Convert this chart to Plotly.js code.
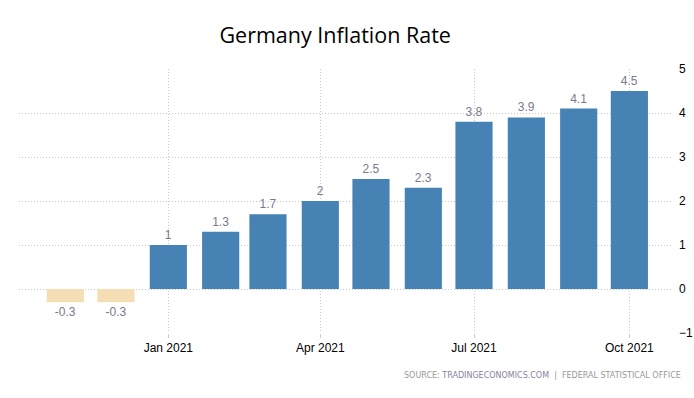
<!DOCTYPE html>
<html>
<head>
<meta charset="utf-8">
<script src="https://cdn.plot.ly/plotly-3.0.1.min.js"></script>
<style>html,body{margin:0;padding:0;background:#fff;}#chart{width:694px;height:398px;}</style>
</head>
<body>
<div id="chart"></div>
<script>
var months = ["2020-11-01","2020-12-01","2021-01-01","2021-02-01","2021-03-01","2021-04-01","2021-05-01","2021-06-01","2021-07-01","2021-08-01","2021-09-01","2021-10-01"];
var inflation = [-0.3,-0.3,1,1.3,1.7,2,2.5,2.3,3.8,3.9,4.1,4.5];
var labels = ["-0.3","-0.3","1","1.3","1.7","2","2.5","2.3","3.8","3.9","4.1","4.5"];
var yTicks = [-1,0,1,2,3,4,5];

var colors = inflation.map(function(v){ return v < 0 ? "#F5DEB3" : "#4682B4"; });

var trace = {
  type: "bar",
  x: months,
  y: inflation,
  text: labels,
  texttemplate: "%{text}",
  textposition: "outside",
  cliponaxis: false,
  textfont: {family: "Liberation Sans, Arial, sans-serif", size: 12, color: "#7a7a8e"},
  width: 22*86400000,
  marker: {color: colors},
  hoverinfo: "x+y"
};

var layout = {
  width: 694, height: 398,
  margin: {l: 19, r: 21, t: 69, b: 65},
  paper_bgcolor: "#fff", plot_bgcolor: "#fff",
  showlegend: false,
  title: {text: "Germany Inflation Rate", x: 0.483, xanchor: "center", y: 0.91, yanchor: "middle",
    font: {family: "Open Sans, Noto Sans, sans-serif", size: 21.5, color: "#000"}},
  xaxis: {
    type: "date",
    range: ["2020-10-04 14:00", "2021-10-26 20:00"],
    tick0: "2021-01-01", dtick: "M3", tickformat: "%b %Y",
    showgrid: true, gridcolor: "#c8c8c8", griddash: "1px,2px", gridwidth: 1,
    ticks: "outside", ticklen: 4, tickcolor: "#cccccc",
    showline: false, zeroline: false,
    tickfont: {family: "Liberation Sans, Arial, sans-serif", size: 12, color: "#000"}
  },
  yaxis: {
    side: "right",
    range: [-1, 5],
    tickvals: yTicks,
    showgrid: true, gridcolor: "#c8c8c8", griddash: "1px,2px", gridwidth: 1,
    zeroline: false, showline: false, ticks: "", ticklabelstandoff: 5,
    tickfont: {family: "Liberation Sans, Arial, sans-serif", size: 12, color: "#000"}
  },
  annotations: [{
    xref: "paper", yref: "paper", x: 1.015, y: -0.16, xanchor: "right", yanchor: "middle",
    showarrow: false,
    text: "SOURCE: <span style='color:#8a7fa0'>TRADINGECONOMICS.COM</span>  |  FEDERAL STATISTICAL OFFICE",
    font: {family: "DejaVu Sans, Verdana, sans-serif", size: 8, color: "#999999"}
  }]
};

Plotly.newPlot("chart", [trace], layout, {displayModeBar: false, staticPlot: true});
</script>
</body>
</html>
